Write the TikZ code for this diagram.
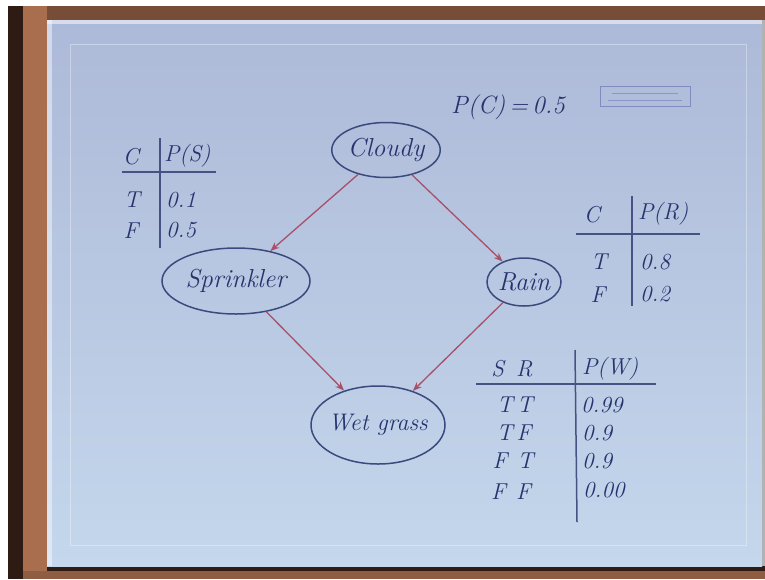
\documentclass[tikz,border=0pt]{standalone}
\usepackage{fontspec}
\usetikzlibrary{shapes.geometric,arrows.meta}
\definecolor{ink}{HTML}{27336E}
\definecolor{oval}{HTML}{3A4A7E}
\definecolor{arrowc}{HTML}{A8506A}
\definecolor{wood}{HTML}{A86E4E}
\definecolor{wooddark}{HTML}{2E1C14}
\definecolor{papertop}{HTML}{ADB9D8}
\definecolor{paperbot}{HTML}{C4D7EC}
\tikzset{
  hand/.style={text=ink, font=\fontsize{25}{27}\selectfont\itshape, inner sep=0pt},
  small/.style={text=ink, font=\fontsize{23}{25}\selectfont\itshape, inner sep=0pt},
  val/.style={small, anchor=west},
  var/.style={ellipse, draw=oval, line width=1.5pt, text=ink, font=\fontsize{26}{28}\selectfont\itshape, inner sep=0pt},
  edge/.style={draw=arrowc, line width=1.3pt, -{Stealth[length=9pt,width=7pt]}},
  rule/.style={draw=ink!85!white, line width=1.5pt}
}
\begin{document}
\begin{tikzpicture}[x=1pt,y=-1pt]
\useasboundingbox (0,0) rectangle (765,579);
% frame
\fill[white] (0,0) rectangle (765,579);
\fill[wooddark] (8,6) rectangle (765,579);
\fill[wood] (23,6) rectangle (47,579);
\fill[wood!60!wooddark] (47,6) rectangle (765,20);
\fill[wood!85!black] (23,571) rectangle (765,579);
\fill[wooddark] (47,566) rectangle (765,571);
% paper
\shade[top color=papertop, bottom color=paperbot] (47,20) rectangle (762,566);
\fill[gray!60] (762,20) rectangle (765,566);
\fill[white,opacity=0.45] (47,20) rectangle (52,566);
\fill[white,opacity=0.5] (47,20) rectangle (762,24);
\draw[white,opacity=0.35,line width=1pt] (70,44) rectangle (746,545);
% small stamp box
\draw[gray!70!blue,opacity=0.5,line width=0.8pt] (600,86) rectangle (690,106);
\draw[gray!70!blue,opacity=0.4,line width=0.6pt] (612,93) -- (678,93) (608,100) -- (682,100);
% nodes
\node[var, minimum width=108pt, minimum height=55pt] (cloudy) at (386,150) {Cloudy};
\node[var, minimum width=148pt, minimum height=66pt] (sprinkler) at (236,281) {Sprinkler};
\node[var, minimum width=74pt, minimum height=48pt] (rain) at (524,282) {Rain};
\node[var, minimum width=134pt, minimum height=78pt, inner xsep=-10pt, font=\fontsize{24}{26}\selectfont\itshape] (wet) at (378,425) {Wet grass};
% edges
\draw[edge] (cloudy) -- (sprinkler);
\draw[edge] (cloudy) -- (rain);
\draw[edge] (sprinkler) -- (wet);
\draw[edge] (rain) -- (wet);
% P(C)
\node[hand] (pc) at (508,107) {P(C)\,=\,0.5};
% table P(S)
\draw[rule] (122,172) -- (216,172);
\draw[rule] (160,138) -- (160,248);
\node[small] (sc) at (131,157) {C};
\node[val] (sp) at (164,156) {P(S)};
\node[small] (st) at (132,200) {T};
\node[val] (sv1) at (166,200) {0.1};
\node[small] (sf) at (131,231) {F};
\node[val] (sv2) at (166,230) {0.5};
% table P(R)
\draw[rule] (576,234) -- (700,234);
\draw[rule] (632,196) -- (632,306);
\node[small] (rc) at (592,215) {C};
\node[val] (rp) at (638,214) {P(R)};
\node[small] (rt) at (599,262) {T};
\node[val] (rv1) at (640,262) {0.8};
\node[small] (rf) at (598,295) {F};
\node[val] (rv2) at (640,294) {0.2};
% table P(W)
\draw[rule] (476,384) -- (656,384);
\draw[rule] (575,350) -- (577,522);
\node[small] (wsr) at (512,369) {S\hspace{12pt}R};
\node[val] (wp) at (582,369) {P(W)};
\node[small] (w1) at (515,405) {T\,T};
\node[val] (v1) at (581,405) {0.99};
\node[small] (w2) at (514,433) {T\,F};
\node[val] (v2) at (582,433) {0.9};
\node[small] (w3) at (513,461) {F\;\,T};
\node[val] (v3) at (582,461) {0.9};
\node[small] (w4) at (511,492) {F\;\,F};
\node[val] (v4) at (583,490) {0.00};
\end{tikzpicture}
\end{document}
